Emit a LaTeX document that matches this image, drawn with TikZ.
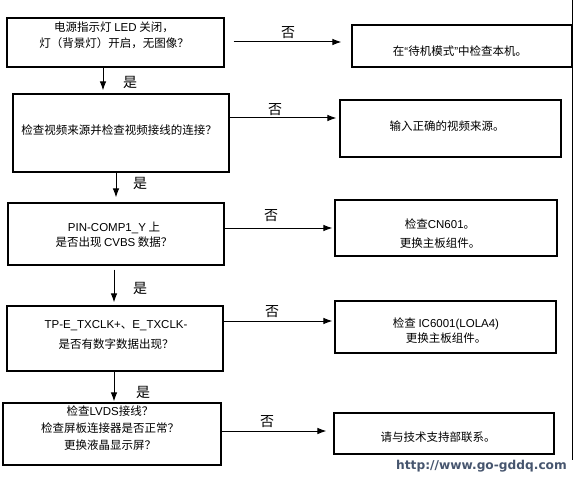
\documentclass[tikz,border=0pt]{standalone}
\usepackage{fontspec}
\setmainfont{Noto Sans CJK SC}
\newfontfamily\lat{Liberation Sans}
\newfontfamily\webfont{DejaVu Sans}
\usetikzlibrary{arrows.meta}
\definecolor{urlcol}{RGB}{70,85,110}
\begin{document}
\begin{tikzpicture}[x=1pt,y=-1pt,
  box/.style={draw, line width=1.1pt, inner sep=0pt},
  txt/.style={align=center, inner sep=0pt, font=\fontsize{11.5}{16}\selectfont},
  lbl/.style={inner sep=0pt, font=\fontsize{14}{16}\selectfont},
  arr/.style={line width=1pt, -{Latex[length=9pt,width=6.5pt]}}]
\useasboundingbox (0,0) rectangle (575,481);
% left column boxes
\node[box, minimum width=217, minimum height=49] (b1) at (115.5,42.5) {};
\node[box, minimum width=216, minimum height=78] (b2) at (121,133) {};
\node[box, minimum width=216, minimum height=62] (b3) at (116,234) {};
\node[box, minimum width=216, minimum height=65] (b4) at (115,338.5) {};
\node[box, minimum width=218, minimum height=62] (b5) at (112,434) {};
% right column boxes
\node[box, minimum width=220, minimum height=42] (r1) at (462,46) {};
\node[box, minimum width=221, minimum height=57] (r2) at (450.5,128.5) {};
\node[box, minimum width=222, minimum height=56] (r3) at (446,228) {};
\node[box, minimum width=221, minimum height=52] (r4) at (445.5,327) {};
\node[box, minimum width=220, minimum height=41] (r5) at (444,433.5) {};
% texts
\node[txt] (t1) at (114,35) {电源指示灯 {\lat LED} 关闭，\\灯（背景灯）开启，无图像？};
\node[txt] (t2) at (119,130) {检查视频来源并检查视频接线的连接？};
\node[txt, font=\fontsize{11.5}{15}\selectfont] (t3) at (114,234.5) {{\lat PIN-COMP1\_Y} 上\\是否出现 {\lat CVBS} 数据？};
\node[txt, font=\fontsize{11.5}{20}\selectfont] (t4) at (116,335) {{\lat TP-E\_TXCLK+}、{\lat E\_TXCLK-}\\是否有数字数据出现？};
\node[txt, font=\fontsize{11.5}{17}\selectfont] (t5) at (110,428) {检查{\lat LVDS}接线？\\检查屏板连接器是否正常？\\更换液晶显示屏？};
\node[txt] (s1) at (460,51) {在{\lat “}待机模式{\lat ”}中检查本机。};
\node[txt] (s2) at (447,126) {输入正确的视频来源。};
\node[txt, font=\fontsize{11.5}{19}\selectfont] (s3) at (440,233.5) {检查{\lat CN601}。\\更换主板组件。};
\node[txt, font=\fontsize{11.5}{15}\selectfont] (s4) at (446,330.5) {检查 {\lat IC6001(LOLA4)}\\更换主板组件。};
\node[txt] (s5) at (438,437) {请与技术支持部联系。};
% guide coordinates
\coordinate (v1) at (103,0);
\coordinate (v2) at (116,0);
\coordinate (v3) at (114,0);
\coordinate (h1) at (0,42);
\coordinate (h2) at (0,118);
\coordinate (h3) at (0,228);
\coordinate (h4) at (0,321);
\coordinate (h5) at (0,431);
% vertical "yes" arrows
\draw[arr, shorten >=3pt] (b1.south -| v1) -- (b2.north -| v1);
\draw[arr, shorten >=5pt] (b2.south -| v2) -- (b3.north -| v2);
\draw[arr, shorten <=4pt, shorten >=3pt] (b3.south -| v3) -- (b4.north -| v3);
\draw[arr, shorten >=1pt] (b4.south -| v3) -- (b5.north -| v3);
% horizontal "no" arrows
\draw[arr, shorten <=9pt, shorten >=10pt] (b1.east |- h1) -- (r1.west |- h1);
\draw[arr, shorten >=3pt] (b2.east |- h2) -- (r2.west |- h2);
\draw[arr, shorten >=2pt] (b3.east |- h3) -- (r3.west |- h3);
\draw[arr, shorten >=2pt] (b4.east |- h4) -- (r4.west |- h4);
\draw[arr, shorten >=7pt] (b5.east |- h5) -- (r5.west |- h5);
% labels
\node[lbl] (n1) at (288,33) {否};
\node[lbl] (n2) at (275,110) {否};
\node[lbl] (n3) at (271,216) {否};
\node[lbl] (n4) at (272,312) {否};
\node[lbl] (n5) at (267,422) {否};
\node[lbl] (y1) at (130,82) {是};
\node[lbl] (y2) at (140,183) {是};
\node[lbl] (y3) at (140,288) {是};
\node[lbl] (y4) at (143,392) {是};
% url
\node[anchor=east, inner sep=0pt, text=urlcol, font=\webfont\bfseries\fontsize{12.2}{14}\selectfont] (url) at (567,466) {http://www.go-gddq.com};
% right border line
\coordinate (e1) at (572,0);
\coordinate (e2) at (572,460);
\draw[line width=1pt] (e1) -- (e2);
\end{tikzpicture}
\end{document}
